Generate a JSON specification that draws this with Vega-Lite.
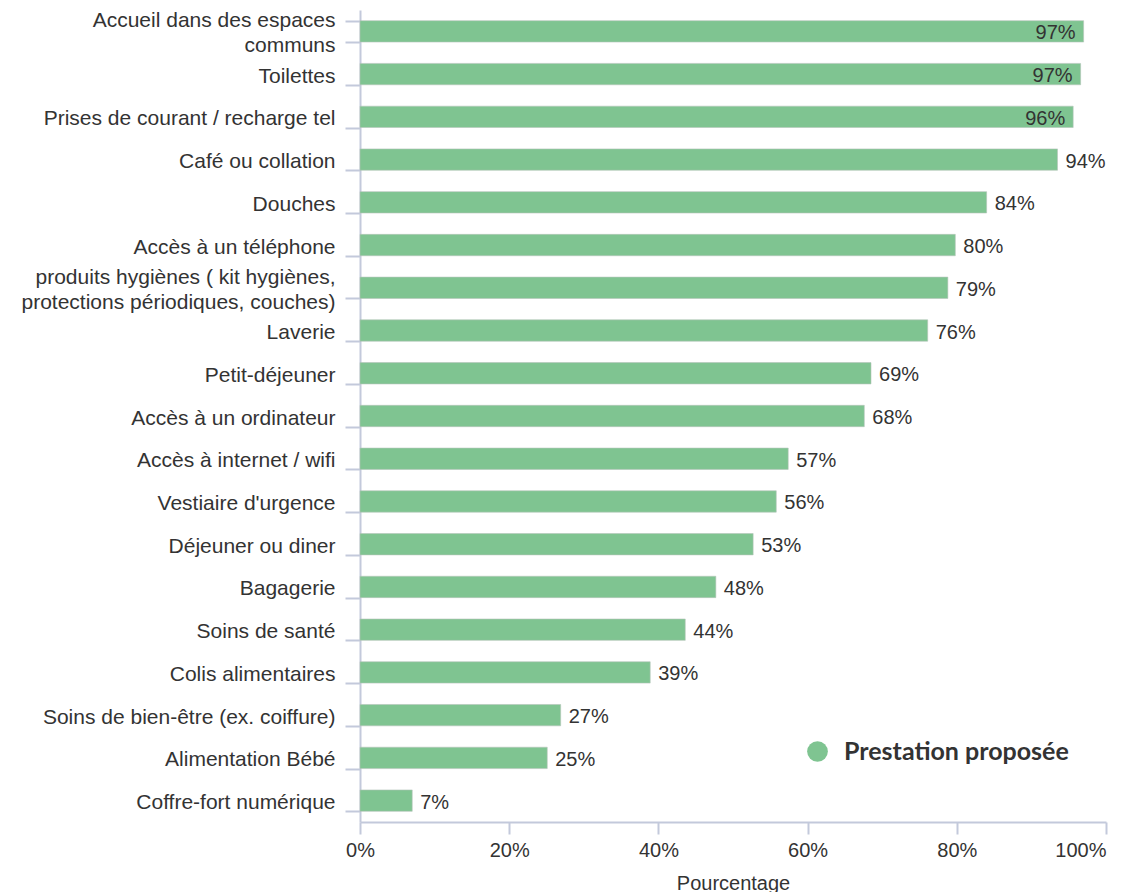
{
  "$schema": "https://vega.github.io/schema/vega-lite/v6.json",
  "autosize": "none",
  "padding": {"left": 360, "top": 10, "right": 26, "bottom": 70},
  "width": 746,
  "height": 812,
  "background": "white",
  "config": {
    "view": {"stroke": null},
    "font": "Liberation Sans"
  },
  "data": {
    "values": [
      {"prestation": "Accueil dans des espaces communs", "pct": 97.0, "serie": "Prestation proposée"},
      {"prestation": "Toilettes", "pct": 96.6, "serie": "Prestation proposée"},
      {"prestation": "Prises de courant / recharge tel", "pct": 95.6, "serie": "Prestation proposée"},
      {"prestation": "Café ou collation", "pct": 93.5, "serie": "Prestation proposée"},
      {"prestation": "Douches", "pct": 84.0, "serie": "Prestation proposée"},
      {"prestation": "Accès à un téléphone", "pct": 79.8, "serie": "Prestation proposée"},
      {"prestation": "produits hygiènes ( kit hygiènes, protections périodiques, couches)", "pct": 78.8, "serie": "Prestation proposée"},
      {"prestation": "Laverie", "pct": 76.1, "serie": "Prestation proposée"},
      {"prestation": "Petit-déjeuner", "pct": 68.5, "serie": "Prestation proposée"},
      {"prestation": "Accès à un ordinateur", "pct": 67.6, "serie": "Prestation proposée"},
      {"prestation": "Accès à internet / wifi", "pct": 57.4, "serie": "Prestation proposée"},
      {"prestation": "Vestiaire d'urgence", "pct": 55.8, "serie": "Prestation proposée"},
      {"prestation": "Déjeuner ou diner", "pct": 52.7, "serie": "Prestation proposée"},
      {"prestation": "Bagagerie", "pct": 47.7, "serie": "Prestation proposée"},
      {"prestation": "Soins de santé", "pct": 43.6, "serie": "Prestation proposée"},
      {"prestation": "Colis alimentaires", "pct": 38.9, "serie": "Prestation proposée"},
      {"prestation": "Soins de bien-être (ex. coiffure)", "pct": 26.9, "serie": "Prestation proposée"},
      {"prestation": "Alimentation Bébé", "pct": 25.1, "serie": "Prestation proposée"},
      {"prestation": "Coffre-fort numérique", "pct": 7.0, "serie": "Prestation proposée"}
    ]
  },
  "encoding": {
    "y": {
      "field": "prestation",
      "type": "nominal",
      "sort": null,
      "scale": {"paddingInner": 0.5, "paddingOuter": 0.25},
      "axis": {
        "title": null,
        "domainColor": "#c3c9db",
        "domainWidth": 2,
        "tickColor": "#c3c9db",
        "tickWidth": 2,
        "tickSize": 15,
        "tickBand": "extent",
        "labelPadding": 10,
        "labelFontSize": 21,
        "labelColor": "#333333",
        "labelLimit": 400,
        "labelLineHeight": 25,
        "labelOffset": {"condition": {"test": "datum.value == 'Accueil dans des espaces communs' || datum.value == 'produits hygiènes ( kit hygiènes, protections périodiques, couches)'", "value": -10.5}, "value": 2},
        "labelExpr": "datum.value == 'Accueil dans des espaces communs' ? ['Accueil dans des espaces', 'communs'] : datum.value == 'produits hygiènes ( kit hygiènes, protections périodiques, couches)' ? ['produits hygiènes ( kit hygiènes,', 'protections périodiques, couches)'] : datum.value"
      }
    },
    "x": {
      "field": "pct",
      "type": "quantitative",
      "scale": {"domain": [0, 100], "nice": false},
      "axis": {
        "title": "Pourcentage",
        "titleFontSize": 20,
        "titleFontWeight": "normal",
        "titleColor": "#333333",
        "titlePadding": 13,
        "values": [0, 20, 40, 60, 80, 100],
        "labelExpr": "datum.value + '%'",
        "labelFontSize": 20,
        "labelColor": "#333333",
        "labelPadding": 6,
        "labelAlign": {"condition": {"test": "datum.value == 100", "value": "right"}, "value": "center"},
        "labelFlush": false,
        "grid": false,
        "domainColor": "#c3c9db",
        "domainWidth": 2,
        "tickColor": "#c3c9db",
        "tickWidth": 2,
        "tickSize": 12
      }
    }
  },
  "layer": [
    {
      "mark": {"type": "bar", "stroke": "#b5c4ba", "strokeWidth": 0.6},
      "encoding": {
        "color": {
          "field": "serie",
          "type": "nominal",
          "scale": {"range": ["#7fc491"]},
          "legend": {
            "title": null,
            "orient": "none",
            "legendX": 445,
            "legendY": 729,
            "symbolType": "circle",
            "symbolSize": 430,
            "symbolStrokeWidth": 0,
            "symbolOpacity": 1,
            "labelFont": "Lato",
            "labelFontWeight": "bold",
            "labelFontSize": 25,
            "labelColor": "#333333",
            "labelOffset": 14,
            "labelLimit": 400
          }
        }
      }
    },
    {
      "transform": [
        {"filter": "datum.pct >= 95"},
        {"calculate": "format(datum.pct, '.0f') + '%'", "as": "etiquette"}
      ],
      "mark": {"type": "text", "align": "right", "dx": -8, "dy": 2, "fontSize": 20, "color": "#333333"},
      "encoding": {
        "text": {"field": "etiquette", "type": "nominal"}
      }
    },
    {
      "transform": [
        {"filter": "datum.pct < 95"},
        {"calculate": "format(datum.pct, '.0f') + '%'", "as": "etiquette"}
      ],
      "mark": {"type": "text", "align": "left", "dx": 8, "dy": 2, "fontSize": 20, "color": "#333333"},
      "encoding": {
        "text": {"field": "etiquette", "type": "nominal"}
      }
    }
  ]
}
